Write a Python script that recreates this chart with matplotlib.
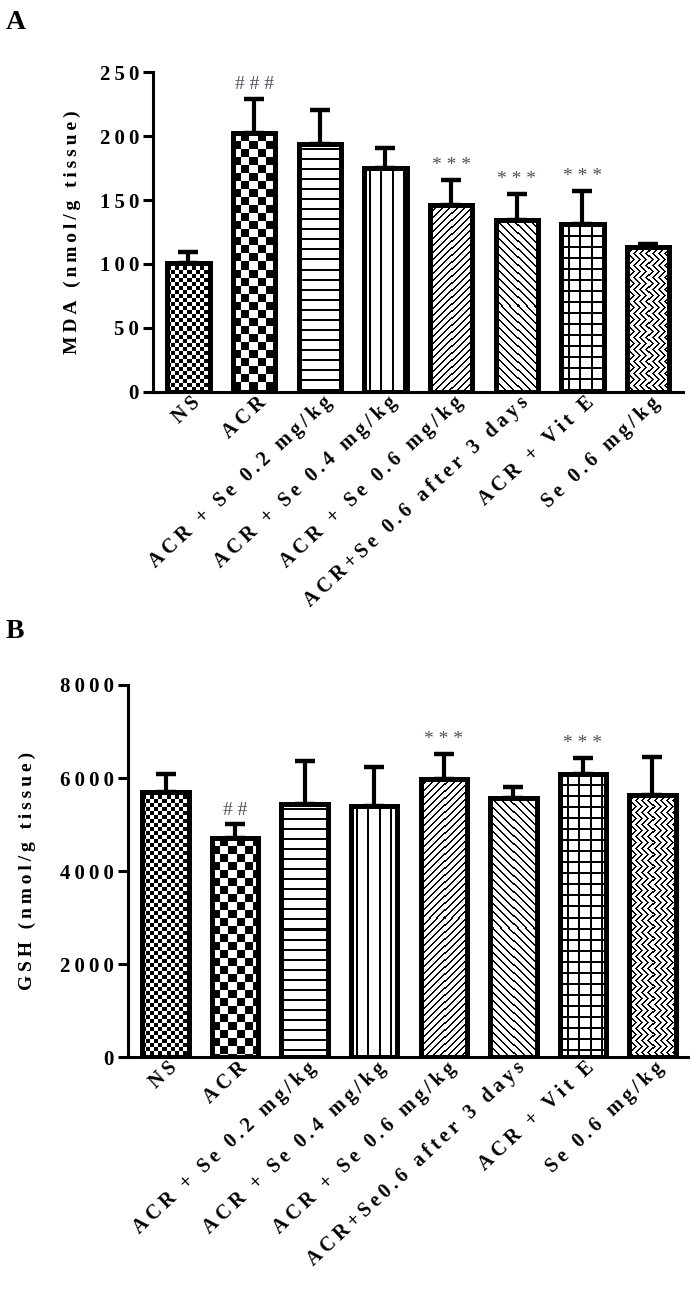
import numpy as np
import matplotlib
matplotlib.use('Agg')
from matplotlib import pyplot as plt
from matplotlib import transforms
from matplotlib.ticker import FuncFormatter

plt.rcParams['font.family'] = ['Liberation Serif', 'DejaVu Serif']
plt.rcParams['font.weight'] = 'bold'

#--------------------------------------------------------------------------#
# data
#--------------------------------------------------------------------------#

groups_A = ['NS', 'ACR', 'ACR + Se 0.2 mg/kg', 'ACR + Se 0.4 mg/kg',
            'ACR + Se 0.6 mg/kg', 'ACR+Se 0.6 after 3 days', 'ACR + Vit E',
            'Se 0.6 mg/kg']
groups_B = ['NS', 'ACR', 'ACR + Se 0.2 mg/kg', 'ACR + Se 0.4 mg/kg',
            'ACR + Se 0.6 mg/kg', 'ACR+Se0.6 after 3 days', 'ACR + Vit E',
            'Se 0.6 mg/kg']

mda_mean = [101, 202, 194, 175, 146, 134, 131, 113]
mda_err = [8, 27, 26, 16, 20, 21, 26, 3]
mda_sig = ['', '###', '', '', '***', '***', '***', '']

gsh_mean = [5710, 4705, 5445, 5400, 5980, 5570, 6090, 5645]
gsh_err = [370, 300, 920, 840, 540, 230, 340, 800]
gsh_sig = ['', '##', '', '', '***', '', '***', '']

patterns = ['fine_check', 'check', 'hlines', 'vlines', 'diag', 'back',
            'grid', 'weave']

#--------------------------------------------------------------------------#

def spaced(s):
    # the original figure uses very wide letter spacing
    return '\u2009'.join(s)


def pattern(kind, h, w):
    # i = row from the top, j = column
    i, j = np.mgrid[0:h, 0:w]
    if kind == 'fine_check':
        return ((i // 4 + j // 4) % 2).astype(float)
    if kind == 'check':
        return ((i // 8 + j // 8) % 2).astype(float)
    if kind == 'hlines':
        return (((i + 5) % 10) < 2).astype(float)
    if kind == 'vlines':
        return (((j + 6) % 11) < 2).astype(float)
    if kind == 'diag':
        return (((i + j) % 7) < 2).astype(float)
    if kind == 'back':
        return (((j - i) % 8) < 2).astype(float)
    if kind == 'grid':
        return (((i % 11) < 2) | (((j + 4) % 11) < 2)).astype(float)
    if kind == 'weave':
        band = (i // 6) % 2
        a = ((i + j) % 6) < 2
        b = ((j - i) % 6) < 2
        return np.where(band == 0, a, b).astype(float)
    return np.zeros((h, w))


def bar_panel(ax, labels, means, errs, sig, width, ymax, ystep, ylabel):
    x = np.arange(len(means))
    ax.set_xlim(-0.54, len(means) - 0.47)
    ax.set_ylim(0, ymax)

    bars = ax.bar(x, means, width, facecolor='none', edgecolor='black',
                  linewidth=3.6, zorder=3)
    ax.errorbar(x, means, yerr=[np.zeros(len(errs)), errs], fmt='none',
                ecolor='black', elinewidth=3.0, capsize=7.5, capthick=3.2,
                zorder=1.5)

    # pattern fills, clipped to each bar
    for b, kind in zip(bars, patterns):
        x0, x1 = b.get_x(), b.get_x() + b.get_width()
        y1 = b.get_height()
        p0 = ax.transData.transform((x0, 0))
        p1 = ax.transData.transform((x1, y1))
        w_px = max(int(round(p1[0] - p0[0])), 1)
        h_px = max(int(round(p1[1] - p0[1])), 1)
        im = ax.imshow(pattern(kind, h_px, w_px), cmap='gray_r', vmin=0,
                       vmax=1, extent=[x0, x1, 0, y1], aspect='auto',
                       interpolation='nearest', origin='upper', zorder=2)
        im.set_clip_path(b)

    for xi, m, e, s in zip(x, means, errs, sig):
        if s:
            ax.annotate(' '.join(s), (xi, m + e), xytext=(0, 4),
                        textcoords='offset points', ha='center',
                        va='bottom', fontsize=14, fontweight='normal',
                        color='#4a4f5c')

    ax.set_xlim(-0.54, len(means) - 0.47)
    ax.set_ylim(0, ymax)
    ax.set_yticks(np.arange(0, ymax + 1, ystep))
    ax.yaxis.set_major_formatter(FuncFormatter(lambda v, p: spaced('%d' % v)))
    ax.set_xticks(x)
    ax.tick_params(axis='x', length=0, pad=0)
    ax.tick_params(axis='y', direction='out', length=7, width=2.2,
                   labelsize=15, pad=3)
    ax.set_xticklabels([spaced(l) for l in labels], rotation=43, ha='right',
                       va='center', rotation_mode='anchor', fontsize=14.5)
    # push the rotated labels a bit right and down, as in the original
    offset = transforms.ScaledTranslation(9 / 100, -8 / 100,
                                          ax.figure.dpi_scale_trans)
    for lab in ax.get_xticklabels():
        lab.set_transform(lab.get_transform() + offset)

    for sp in ['top', 'right']:
        ax.spines[sp].set_visible(False)
    for sp in ['left', 'bottom']:
        ax.spines[sp].set_linewidth(2.2)
    ax.set_ylabel(spaced(ylabel), fontsize=14, fontweight='bold')

#--------------------------------------------------------------------------#

fig = plt.figure(figsize=(6.9, 13.03), dpi=100)

axA = fig.add_axes([0.2217, 0.6992, 0.768, 0.2455])
bar_panel(axA, groups_A, mda_mean, mda_err, mda_sig, 0.645, 250, 50,
          'MDA (nmol/g tissue)')
axA.yaxis.set_label_coords(-0.136, 0.5)

axB = fig.add_axes([0.1855, 0.1886, 0.8135, 0.2857])
bar_panel(axB, groups_B, gsh_mean, gsh_err, gsh_sig, 0.668, 8000, 2000,
          'GSH (nmol/g tissue)')
axB.yaxis.set_label_coords(-0.164, 0.5)

fig.text(0.008, 0.983, 'A', fontsize=20, fontweight='bold', va='center')
fig.text(0.008, 0.515, 'B', fontsize=20, fontweight='bold', va='center')

fig.savefig('out.png', dpi=100)
